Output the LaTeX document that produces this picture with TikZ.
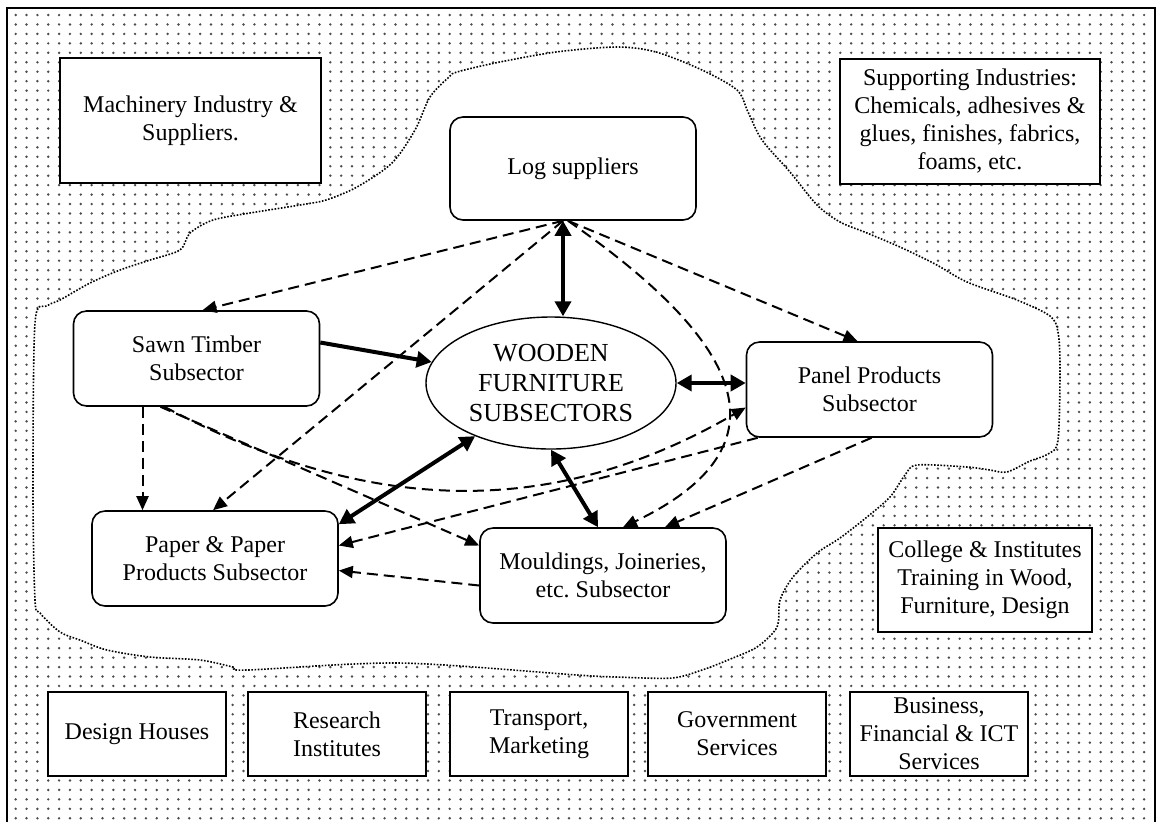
\documentclass[tikz,border=0pt]{standalone}
\usepackage{fontspec}
\setmainfont{Liberation Serif}
\usetikzlibrary{arrows.meta,shapes.geometric}
\definecolor{dotfill}{gray}{0.3}
\frenchspacing
\begin{document}
\begin{tikzpicture}[x=0.5pt,y=-0.5pt,
  every node/.style={font=\fontsize{12}{14}\selectfont, align=center},
  plainbox/.style={draw, line width=1pt, fill=white, inner sep=0.5pt},
  subbox/.style={draw, line width=0.8pt, fill=white, rounded corners=6.5pt,
    minimum width=123pt, minimum height=47.5pt, inner sep=1pt},
  hubnode/.style={draw, ellipse, line width=0.7pt, fill=white,
    minimum width=125pt, minimum height=66pt, inner sep=0pt,
    font=\fontsize{13}{15}\selectfont},
  flow/.style={line width=1pt, dash pattern=on 5.5pt off 3pt,
    -{Triangle[length=7pt,width=6pt]}},
  push/.style={line width=2pt, -{Triangle[length=7.5pt,width=8pt]}},
  link/.style={line width=2pt,
    {Triangle[length=7.5pt,width=8pt]}-{Triangle[length=7.5pt,width=8pt]}},
  blobline/.style={line width=0.8pt, dash pattern=on 0.8pt off 0.8pt},
  dotrow/.style={draw=dotfill, line width=1.35pt, line cap=round,
    dash pattern=on 0pt off 5.425pt}
]
\useasboundingbox (0,0) rectangle (1160,821);
\clip (0,0) rectangle (1160,821);

% stippled background: each row is a dashed line of round dots
\foreach \j in {0,...,85}{
  \path[dotrow] (15.7,{15+9.45*\j}) -- (1150,{15+9.45*\j});
}

% the cluster region, cleared and outlined with a dotted line
\path[fill=white, draw, blobline] plot[smooth cycle, tension=0.5] coordinates {
  (617,47) (656,52) (702,70) (737,90) (748,112) (762,140) (790,172) (817,205)
  (840,222) (867,233) (900,247) (935,264) (967,282) (1017,300) (1050,316)
  (1058,332) (1060,367) (1058,440) (1048,454) (1030,461) (1007,472) (990,470)
  (967,467) (917,465) (905,475) (890,497) (867,517) (840,538) (817,553)
  (793,577) (780,600) (777,627) (757,647) (728,660) (702,670) (672,678)
  (617,677) (577,675) (400,663) (247,670) (233,667) (200,660) (150,657)
  (107,650) (80,640) (60,632) (40,613) (35,600) (33,490) (35,323) (47,306)
  (60,300) (90,283) (120,270) (150,260) (180,250) (190,233) (213,220)
  (250,213) (300,205) (326,200) (357,187) (392,163) (415,130) (430,97)
  (449,77) (457,72) (495,63) (556,52)};

% frame
\draw[line width=1.3pt] (7,8) rectangle (1155,860);

% surrounding institutions
\node[plainbox, minimum width=130.5pt, minimum height=62.5pt] (mach) at (190.5,120.5)
  {Machinery Industry \&\\Suppliers.};
\node[plainbox, minimum width=130pt, minimum height=62.5pt] (supp) at (970,121.5)
  {Supporting Industries:\\Chemicals, adhesives \&\\glues, finishes, fabrics,\\foams, etc.};
\node[plainbox, minimum width=107pt, minimum height=52pt] (coll) at (985,580)
  {College \& Institutes\\Training in Wood,\\Furniture, Design};
\node[plainbox, minimum width=89pt, minimum height=42pt] (design) at (137,734) {Design Houses};
\node[plainbox, minimum width=89pt, minimum height=42pt] (research) at (337,734) {Research\\Institutes};
\node[plainbox, minimum width=89pt, minimum height=42pt] (transport) at (539,734) {Transport,\\Marketing};
\node[plainbox, minimum width=89pt, minimum height=42pt] (gov) at (737,734) {Government\\Services};
\node[plainbox, minimum width=89pt, minimum height=42pt] (business) at (939,734)
  {Business,\\Financial \& ICT\\Services};

% core subsectors
\node[subbox, minimum height=51.5pt] (log) at (573,168.5) {Log suppliers};
\node[hubnode] (hub) at (551,383) {WOODEN\\FURNITURE\\SUBSECTORS};
\node[subbox] (sawn) at (196.5,358.5) {Sawn Timber\\Subsector};
\node[subbox] (panel) at (869.5,389.5) {Panel Products\\Subsector};
\node[subbox] (paper) at (215,558.5) {Paper \& Paper\\Products Subsector};
\node[subbox] (mould) at (603,575.5) {Mouldings, Joineries,\\etc. Subsector};

\coordinate (lg) at ([xshift=-5pt]log.south);
\coordinate (lgr) at ([xshift=-2.5pt]log.south);

% main links
\draw[link] (lg) -- (lg |- hub.north);
\draw[push] ([yshift=8pt]sawn.east) -- (hub.170);
\draw[link] (hub.east) -- (hub.east -| panel.west);
\draw[link] (hub.215) -- ([yshift=-7pt]paper.north east);
\draw[link] (hub.south) -- ([xshift=-2.5pt]mould.north);

% material flows
\draw[flow] (lg) -- ([xshift=3pt]sawn.north);
\draw[flow] (lg) -- ([xshift=-1pt]paper.north);
\draw[flow] (lgr) -- ([xshift=-6pt]panel.north);
\draw[flow] (lgr) .. controls (725,330) and (805,440) .. ([xshift=10pt]mould.north);
\draw[flow] ([xshift=-27pt]sawn.south) -- ([xshift=-27pt]sawn.south |- paper.north);
\draw[flow] ([xshift=-18pt]sawn.south) -- ([yshift=15pt]mould.west);
\draw[flow] ([xshift=-16pt]sawn.south) .. controls (365,513) and (548,522) .. ([yshift=-9pt]panel.west);
\draw[flow] ([xshift=6pt]panel.south west) -- ([yshift=6.5pt]paper.east);
\draw[flow] ([xshift=1pt]panel.south) -- ([xshift=31pt]mould.north);
\draw[flow] ([yshift=-5pt]mould.west) -- ([yshift=-6pt]paper.east);
\end{tikzpicture}
\end{document}
